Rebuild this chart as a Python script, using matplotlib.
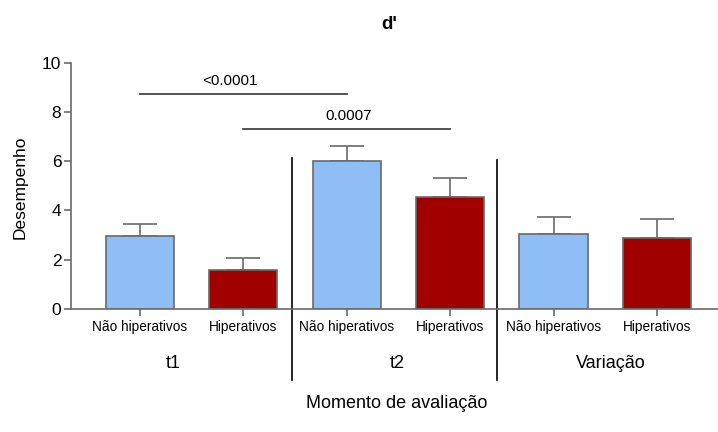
import numpy as np
import matplotlib
matplotlib.use("Agg")
import matplotlib.pyplot as plt

plt.rcParams['font.family'] = ['Liberation Sans', 'DejaVu Sans']

# d' per group and evaluation moment (mean, upper error)
groups = ['Não hiperativos', 'Hiperativos'] * 3
moments = ['t1', 't2', 'Variação']
means = [2.96, 1.60, 6.02, 4.56, 3.04, 2.89]
errs = [0.48, 0.48, 0.59, 0.75, 0.69, 0.76]
colors = ['#8fbdf6', '#a00000'] * 3

# comparisons: (bar a, bar b, height, label x, p-value text)
comparisons = [(0, 2, 8.71, 0.87, '<0.0001'), (1, 3, 7.31, 2.02, '0.0007')]

fig = plt.figure(figsize=(7.18, 4.32), dpi=100)
ax = fig.add_axes([0.0989, 0.2847, 0.9011, 0.5706])

x = np.arange(len(means))
ax.bar(x, means, width=0.66, color=colors, edgecolor='#6a6a6a', linewidth=1.2, zorder=2)
ax.errorbar(x, means, yerr=[np.zeros(len(errs)), errs], fmt='none',
            ecolor='#6a6a6a', elinewidth=1.2, capsize=12, capthick=1.2, zorder=1)

ax.set_xlim(-0.665, 5.59)
ax.set_ylim(0, 10)
ax.set_yticks([0, 2, 4, 6, 8, 10])
ax.set_xticks(x)
ax.set_xticklabels(groups, fontsize=9.8)

for s in ['top', 'right']:
    ax.spines[s].set_visible(False)
for s in ['left', 'bottom']:
    ax.spines[s].set_color('#6a6a6a')
    ax.spines[s].set_linewidth(1.2)
ax.tick_params(axis='y', labelsize=12.5, length=5, width=1.2, color='#6a6a6a', pad=2)
ax.tick_params(axis='x', length=5, width=1.2, color='#6a6a6a', pad=3)

# group separators that run down through the labels
for sx, top in [(1.475, 6.11), (3.457, 6.04)]:
    ax.plot([sx, sx], [top, -2.88], color='black', lw=1.2, clip_on=False)

for mx, name in zip([0.32, 2.49, 4.55], moments):
    ax.text(mx, -2.23, name, ha='center', va='center', fontsize=13)

for a, b, h, tx, p in comparisons:
    ax.plot([a, b], [h, h], color='#444444', lw=1.3, clip_on=False)
    ax.text(tx, h + 0.25, p, ha='center', va='bottom', fontsize=11)

fig.text(0.542, 0.944, "d'", ha='center', va='center', fontsize=13.5, fontweight='bold')
fig.text(0.028, 0.567, 'Desempenho', ha='center', va='center', rotation=90, fontsize=12.5)
fig.text(0.553, 0.067, 'Momento de avaliação', ha='center', va='center', fontsize=13)

fig.savefig('out.png', dpi=100)
